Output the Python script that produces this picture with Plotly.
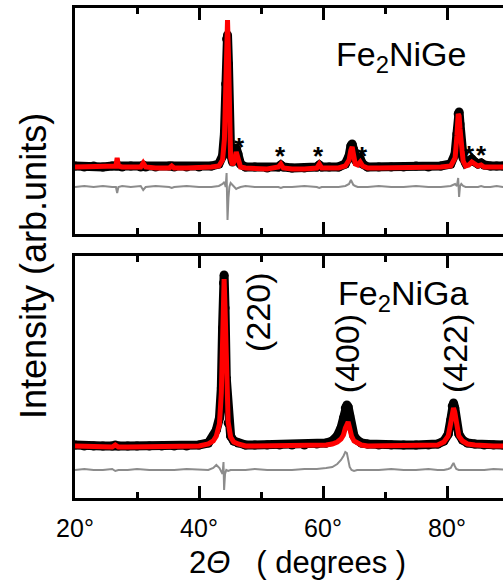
import plotly.graph_objects as go

# ---------------- Fe2NiGe (top panel) ----------------
ge_x = [20, 21.5, 23, 24.5, 26, 26.6, 26.8, 27.0, 27.6, 29, 30.6, 31.0, 31.4, 33, 35.2, 35.6, 36.0, 38, 40, 42,
        43.2, 43.8, 44.1, 44.3, 44.45, 44.6, 44.75, 44.9, 45.1, 45.4, 45.7, 46.0, 46.3, 46.7, 47.5, 49, 51,
        52.8, 53.2, 53.6, 55, 57, 59.0, 59.4, 59.8, 61, 62.5, 63.6, 64.2, 64.5, 64.7, 64.9, 65.2, 65.6, 66.0,
        66.4, 67.2, 69, 71, 73, 75, 77, 79, 80.6, 81.3, 81.6, 81.8, 81.95, 82.1, 82.3, 82.6, 83.0, 83.5, 84.0,
        84.5, 85.0, 85.5, 86.0, 87, 88, 89, 90]
ge_obs = [68, 67, 68, 67, 68, 68, 69, 68, 67, 68, 67, 69, 67, 67, 68, 68, 67, 67, 67, 68,
          70, 78, 100, 150, 195, 199, 170, 110, 80, 72, 76, 86, 80, 70, 67, 67, 66,
          67, 69, 67, 66, 66, 67, 69, 67, 67, 67, 70, 78, 88, 90, 85, 74, 72, 75,
          70, 67, 67, 67, 67, 68, 67, 68, 70, 80, 100, 120, 122, 110, 88, 76, 71, 72, 75,
          72, 70, 71, 69, 68, 68, 68, 68]
ge_calc = [67, 67, 67, 67, 67, 68, 76, 68, 67, 67, 67, 71, 67, 66, 66, 68, 66, 66, 66, 67,
           68, 74, 95, 150, 200, 214, 180, 110, 76, 69, 73, 82, 76, 67, 66, 66, 65,
           67, 70, 66, 65, 65, 66, 70, 66, 66, 66, 68, 74, 84, 87, 80, 70, 69, 72,
           68, 66, 66, 66, 66, 66, 66, 67, 68, 76, 98, 120, 118, 105, 84, 73, 68, 69, 72,
           70, 68, 69, 67, 67, 67, 67, 67]
ge_diff = [47, 48, 47, 48, 47, 47, 41, 47, 48, 47, 48, 44, 47, 48, 47, 46, 47, 48, 47, 47,
           48, 50, 52, 47, 61, 14, 36, 47, 51, 49, 47, 45, 46, 47, 48, 47, 47,
           47, 46, 47, 47, 48, 47, 46, 47, 47, 47, 48, 50, 54, 51, 49, 48, 47, 47,
           47, 47, 48, 47, 47, 48, 47, 47, 48, 50, 48, 56, 37, 48, 50, 48, 47, 47, 47,
           47, 47, 48, 47, 47, 48, 47, 47]

# ---------------- Fe2NiGa (bottom panel) ----------------
ga_x = [20, 21.5, 23, 24.5, 26, 26.5, 27, 28.5, 30, 32, 34, 36, 38, 40, 41.5, 42.3, 42.8, 43.3, 43.6, 43.8,
        43.95, 44.05, 44.2, 44.4, 44.7, 45.1, 45.6, 46.3, 47.5, 49, 51, 53, 55, 57, 59, 60.5, 61.5, 62.3,
        62.9, 63.3, 63.6, 63.85, 64.05, 64.3, 64.6, 65.0, 65.5, 66.2, 67.2, 69, 71, 73, 75, 77, 78.5, 79.5,
        80.2, 80.6, 80.85, 81.05, 81.25, 81.5, 81.9, 82.5, 83.3, 84.5, 86, 87.5, 89, 90]
ga_obs = [53, 52, 52, 52, 52, 53, 52, 52, 52, 52, 52, 52, 52, 53, 55, 62, 68, 80, 110, 170,
          215, 223, 190, 120, 75, 62, 57, 55, 53, 53, 53, 53, 53, 53, 54, 55, 57, 62,
          70, 80, 90, 93, 91, 82, 70, 62, 58, 55, 54, 53, 53, 53, 53, 53, 54, 57,
          64, 78, 92, 95, 90, 76, 64, 58, 55, 54, 53, 53, 53, 53]
ga_calc = [52, 52, 51, 51, 51, 53, 51, 51, 51, 51, 51, 51, 51, 52, 54, 57, 62, 74, 105, 165,
           212, 219, 190, 125, 76, 61, 56, 54, 52, 52, 52, 52, 52, 52, 52, 53, 54, 56,
           59, 63, 70, 76, 76, 70, 62, 57, 55, 53, 52, 52, 52, 52, 52, 52, 53, 56,
           62, 75, 87, 90, 86, 73, 62, 57, 54, 53, 52, 52, 52, 52]
ga_diff = [28, 29, 28, 28, 29, 27, 28, 28, 29, 28, 28, 28, 29, 28, 28, 30, 33, 30, 27, 24,
           36, 8, 24, 28, 27, 28, 28, 28, 28, 29, 28, 28, 28, 29, 29, 30, 31, 34,
           38, 42, 46, 45, 40, 31, 28, 27, 28, 28, 28, 28, 29, 28, 28, 29, 28, 28,
           29, 30, 33, 35, 32, 29, 28, 28, 28, 28, 28, 29, 28, 28]

# ---------------- labels ----------------
star_x = [46.45, 53.2, 59.35, 66.3, 83.55, 85.5]
star_y = [87, 78, 78, 78, 79, 79]
hkl_labels = ["(220)", "(400)", "(422)"]
hkl_x = [49.5, 63.9, 81.3]
hkl_y = [186, 144, 144]
tick_vals = [20, 40, 60, 80]
tick_text = ["20°", "40°", "60°", "80°"]

FONT = "Arial, Liberation Sans, sans-serif"
fig = go.Figure()

def add_panel(x, obs, calc, diff, xa, ya):
    fig.add_trace(go.Scatter(x=x, y=obs, mode="lines+markers", xaxis=xa, yaxis=ya,
                             line=dict(color="black", width=9),
                             marker=dict(color="black", size=9), showlegend=False))
    fig.add_trace(go.Scatter(x=x, y=calc, mode="lines", xaxis=xa, yaxis=ya,
                             line=dict(color="#ff0000", width=5), showlegend=False))
    fig.add_trace(go.Scatter(x=x, y=diff, mode="lines", xaxis=xa, yaxis=ya,
                             line=dict(color="#8c8c8c", width=2), showlegend=False))

add_panel(ge_x, ge_obs, ge_calc, ge_diff, "x2", "y2")
add_panel(ga_x, ga_obs, ga_calc, ga_diff, "x", "y")

xcommon = dict(range=[20, 89.03], showgrid=False, zeroline=False, showline=True, linecolor="black",
               linewidth=3, mirror="ticks", ticks="inside", ticklen=12, tickwidth=3, tickcolor="black",
               tickmode="array", tickvals=tick_vals, ticktext=tick_text,
               minor=dict(tickmode="array", tickvals=[30, 50, 70, 90], ticks="inside", ticklen=6,
                          tickwidth=3, tickcolor="black"),
               tickfont=dict(family=FONT, size=25, color="black"))
ycommon = dict(showgrid=False, zeroline=False, showline=True, linecolor="black", linewidth=3,
               ticks="", showticklabels=False, mirror=False)

fig.update_layout(
    width=503, height=581,
    margin=dict(l=75, r=0, t=8, b=83),
    plot_bgcolor="white", paper_bgcolor="white",
    xaxis=dict(xcommon, anchor="y", ticklabelstandoff=6),
    yaxis=dict(ycommon, domain=[0, 0.4939], range=[0, 242], anchor="x"),
    xaxis2=dict(xcommon, anchor="y2", showticklabels=False),
    yaxis2=dict(ycommon, domain=[0.5388, 1], range=[0, 226], anchor="x2"),
    font=dict(family=FONT, color="black"),
)

ann = []
ann.append(dict(x=72.6, y=178, xref="x2", yref="y2", text="Fe<sub>2</sub>NiGe", showarrow=False,
                font=dict(size=34), xanchor="center", yanchor="middle"))
ann.append(dict(x=72.9, y=202, xref="x", yref="y", text="Fe<sub>2</sub>NiGa", showarrow=False,
                font=dict(size=34), xanchor="center", yanchor="middle"))
for sx, sy in zip(star_x, star_y):
    ann.append(dict(x=sx, y=sy, xref="x2", yref="y2", text="<b>*</b>", showarrow=False,
                    font=dict(size=26), xanchor="center", yanchor="middle"))
for t, hx, hy in zip(hkl_labels, hkl_x, hkl_y):
    ann.append(dict(x=hx, y=hy, xref="x", yref="y", text=t, showarrow=False, textangle=-90,
                    font=dict(size=34), xanchor="center", yanchor="middle"))
ann.append(dict(x=(297 - 75) / 428, y=-(562 - 498) / 490, xref="paper", yref="paper",
                text="2<i>Θ</i>   ( degrees )", showarrow=False, font=dict(size=31),
                xanchor="center", yanchor="middle"))
ann.append(dict(x=-(75 - 33) / 428, y=(498 - 266) / 490, xref="paper", yref="paper",
                text="Intensity (arb.units)", showarrow=False, textangle=-90, font=dict(size=36),
                xanchor="center", yanchor="middle"))
fig.update_layout(annotations=ann)

fig.write_html("out.html")
